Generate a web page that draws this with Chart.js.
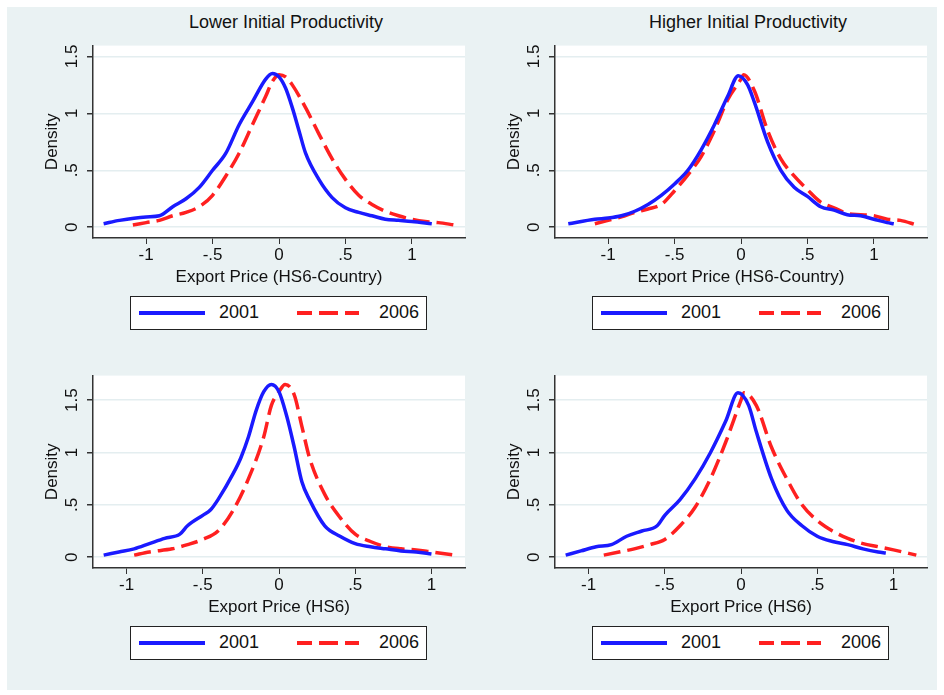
<!DOCTYPE html>
<html>
<head>
<meta charset="utf-8">
<script src="https://cdn.jsdelivr.net/npm/chart.js@4"></script>
<style>
  body { margin: 0; background: #fff; font-family: "Liberation Sans", Arial, sans-serif; }
  #bg { position: absolute; left: 7px; top: 7px; width: 930px; height: 683px; background: #eaf2f3; }
  .pane { position: absolute; }
  .title { position: absolute; font-size: 18px; color: #111; text-align: center; width: 400px; }
  .legend { position: absolute; width: 295px; height: 32px; background: #fff; border: 1.5px solid #222; }
  .legend .ln { position: absolute; top: 14px; width: 66px; height: 0; }
  .legend .txt { position: absolute; top: 5px; font-size: 18px; color: #111; }
</style>
</head>
<body>
<div id="bg"></div>
<script>
// values: [x, density]
const blue1 = [[-1.32,0.03],[-1.2,0.06],[-1.0,0.09],[-0.9,0.1],[-0.8,0.18],[-0.7,0.25],[-0.6,0.35],[-0.5,0.5],[-0.4,0.65],[-0.3,0.9],[-0.2,1.1],[-0.1,1.3],[-0.05,1.35],[0,1.32],[0.05,1.22],[0.1,1.05],[0.15,0.85],[0.2,0.65],[0.3,0.42],[0.4,0.26],[0.5,0.17],[0.6,0.13],[0.7,0.1],[0.8,0.07],[0.9,0.06],[1.0,0.05],[1.15,0.03]]
const red1 = [[-1.1,0.02],[-1,0.04],[-0.9,0.06],[-0.8,0.1],[-0.7,0.13],[-0.6,0.18],[-0.5,0.28],[-0.4,0.45],[-0.3,0.65],[-0.2,0.9],[-0.1,1.15],[-0.05,1.28],[0,1.34],[0.05,1.32],[0.1,1.25],[0.2,1.05],[0.3,0.82],[0.4,0.6],[0.5,0.42],[0.6,0.28],[0.7,0.2],[0.8,0.14],[0.9,0.1],[1.0,0.07],[1.1,0.05],[1.2,0.04],[1.32,0.02]]
const blue2 = [[-1.3,0.03],[-1.1,0.07],[-1,0.08],[-0.9,0.1],[-0.8,0.14],[-0.7,0.2],[-0.6,0.28],[-0.5,0.38],[-0.4,0.5],[-0.3,0.68],[-0.2,0.9],[-0.1,1.15],[-0.02,1.33],[0.05,1.25],[0.1,1.1],[0.2,0.75],[0.3,0.5],[0.4,0.35],[0.5,0.27],[0.6,0.18],[0.7,0.15],[0.8,0.11],[0.9,0.1],[1.0,0.07],[1.1,0.04],[1.15,0.03]]
const red2 = [[-1.1,0.03],[-1,0.06],[-0.9,0.09],[-0.8,0.13],[-0.7,0.16],[-0.6,0.2],[-0.5,0.32],[-0.4,0.46],[-0.3,0.62],[-0.2,0.85],[-0.1,1.12],[0,1.3],[0.02,1.34],[0.1,1.2],[0.2,0.85],[0.3,0.6],[0.4,0.45],[0.5,0.33],[0.6,0.22],[0.7,0.17],[0.8,0.12],[0.9,0.11],[1.0,0.1],[1.1,0.07],[1.2,0.06],[1.32,0.02]]
const blue3 = [[-1.15,0.02],[-1.05,0.05],[-0.95,0.08],[-0.85,0.13],[-0.75,0.18],[-0.65,0.22],[-0.6,0.3],[-0.5,0.4],[-0.45,0.45],[-0.4,0.55],[-0.3,0.8],[-0.25,0.95],[-0.2,1.15],[-0.15,1.4],[-0.1,1.58],[-0.05,1.65],[0,1.58],[0.05,1.35],[0.1,1.05],[0.15,0.72],[0.2,0.55],[0.3,0.3],[0.4,0.2],[0.5,0.13],[0.6,0.1],[0.7,0.08],[0.8,0.06],[0.9,0.05],[1.0,0.03]]
const red3 = [[-0.95,0.02],[-0.85,0.05],[-0.7,0.08],[-0.6,0.12],[-0.5,0.17],[-0.4,0.25],[-0.3,0.45],[-0.2,0.75],[-0.1,1.15],[-0.05,1.45],[0,1.58],[0.04,1.65],[0.1,1.55],[0.15,1.25],[0.2,0.95],[0.3,0.6],[0.4,0.38],[0.5,0.22],[0.6,0.15],[0.7,0.1],[0.8,0.08],[0.9,0.07],[1.0,0.05],[1.15,0.02]]
const blue4 = [[-1.15,0.02],[-1.05,0.06],[-0.95,0.1],[-0.85,0.12],[-0.75,0.2],[-0.65,0.25],[-0.55,0.3],[-0.5,0.4],[-0.4,0.55],[-0.3,0.75],[-0.2,1.0],[-0.1,1.3],[-0.02,1.57],[0.05,1.45],[0.1,1.2],[0.2,0.75],[0.3,0.45],[0.4,0.3],[0.5,0.2],[0.6,0.15],[0.7,0.12],[0.8,0.08],[0.9,0.05],[0.95,0.04]]
const red4 = [[-0.9,0.02],[-0.8,0.05],[-0.7,0.08],[-0.6,0.12],[-0.5,0.17],[-0.4,0.3],[-0.3,0.48],[-0.2,0.75],[-0.1,1.1],[0,1.5],[0.02,1.57],[0.1,1.45],[0.2,1.05],[0.3,0.75],[0.4,0.5],[0.5,0.35],[0.6,0.25],[0.7,0.18],[0.8,0.13],[0.9,0.1],[1.0,0.07],[1.15,0.02]]

const xTicks = [-1, -0.5, 0, 0.5, 1]
const yTicks = [0, 0.5, 1, 1.5]
const tickText = v => v === 0 ? '0' : (v < 0 ? '-' : '') + String(Math.abs(v)).replace(/^0\./, '.')

const titles = ['Lower Initial Productivity', 'Higher Initial Productivity']
const xTitles = ['Export Price (HS6-Country)', 'Export Price (HS6)']
const yTitle = 'Density'
const years = ['2001', '2006']

const panels = [
  { left: 0, top: 42, blue: blue1, red: red1, xmin: -1.40, xmax: 1.40, ymin: -0.095, ymax: 1.595, xt: xTitles[0], title: titles[0] },
  { left: 462, top: 42, blue: blue2, red: red2, xmin: -1.40, xmax: 1.40, ymin: -0.095, ymax: 1.595, xt: xTitles[0], title: titles[1] },
  { left: 0, top: 372, blue: blue3, red: red3, xmin: -1.22, xmax: 1.22, ymin: -0.103, ymax: 1.734, xt: xTitles[1] },
  { left: 462, top: 372, blue: blue4, red: red4, xmin: -1.22, xmax: 1.22, ymin: -0.103, ymax: 1.734, xt: xTitles[1] }
]

const FONT = '"Liberation Sans", Arial, sans-serif'

// plot area background + rotated y tick labels and title, Stata style
const stataLook = {
  id: 'stataLook',
  beforeDraw(chart) {
    const { ctx, chartArea: a } = chart
    ctx.save()
    ctx.fillStyle = '#fff'
    ctx.fillRect(a.left, a.top, a.right - a.left, a.bottom - a.top)
    ctx.restore()
  },
  afterDraw(chart) {
    const { ctx, chartArea: a } = chart
    const y = chart.scales.y
    const rot = (txt, x, yy) => {
      ctx.save()
      ctx.translate(x, yy)
      ctx.rotate(-Math.PI / 2)
      ctx.fillText(txt, 0, 0)
      ctx.restore()
    }
    ctx.save()
    ctx.fillStyle = '#111'
    ctx.font = '17px ' + FONT
    ctx.textAlign = 'center'
    ctx.textBaseline = 'middle'
    yTicks.forEach(v => rot(tickText(v), 72, y.getPixelForValue(v)))
    rot(yTitle, 52, (a.top + a.bottom) / 2)
    ctx.restore()
  }
}

panels.forEach(p => {
  const c = document.createElement('canvas')
  const wrap = document.createElement('div')
  wrap.className = 'pane'
  wrap.style.left = p.left + 'px'
  wrap.style.top = p.top + 'px'
  wrap.style.width = '470px'
  wrap.style.height = '246px'
  wrap.appendChild(c)
  document.body.appendChild(wrap)

  if (p.title) {
    const t = document.createElement('div')
    t.className = 'title'
    t.textContent = p.title
    t.style.left = (p.left + 286 - 200) + 'px'
    t.style.top = '12px'
    document.body.appendChild(t)
  }

  const lg = document.createElement('div')
  lg.className = 'legend'
  lg.style.left = (p.left + 130) + 'px'
  lg.style.top = (p.top + 254) + 'px'
  lg.innerHTML =
    '<div class="ln" style="left:8px;border-top:4px solid #1a1aff"></div>' +
    '<div class="txt" style="left:88px">' + years[0] + '</div>' +
    '<div class="ln" style="left:166px;width:62px;border-top:4px solid transparent;border-image:repeating-linear-gradient(90deg,#ff2020 0 17px,transparent 17px 23px) 4"></div>' +
    '<div class="txt" style="left:248px">' + years[1] + '</div>'
  document.body.appendChild(lg)

  new Chart(c, {
    type: 'line',
    data: {
      datasets: [
        { label: years[0], data: p.blue.map(([x, y]) => ({ x, y })), borderColor: '#1a1aff', borderWidth: 3.5, pointRadius: 0, cubicInterpolationMode: 'monotone', fill: false },
        { label: years[1], data: p.red.map(([x, y]) => ({ x, y })), borderColor: '#ff2020', borderWidth: 3.5, borderDash: [17, 7], pointRadius: 0, cubicInterpolationMode: 'monotone', fill: false }
      ]
    },
    options: {
      responsive: true, maintainAspectRatio: false, animation: false,
      layout: { padding: { left: 0, right: 5, top: 0, bottom: 0 } },
      plugins: { legend: { display: false }, tooltip: { enabled: false } },
      scales: {
        x: {
          type: 'linear', min: p.xmin, max: p.xmax,
          afterFit: s => { s.height = 50 },
          afterBuildTicks: s => { s.ticks = xTicks.map(v => ({ value: v })) },
          grid: { drawOnChartArea: false, tickLength: 6, color: '#333' },
          border: { color: '#333', width: 1.5 },
          ticks: { color: '#111', font: { size: 17, family: FONT }, padding: 1, callback: v => tickText(v) },
          title: { display: true, text: p.xt, color: '#111', font: { size: 17, family: FONT }, padding: { top: 0, bottom: 0 } }
        },
        y: {
          type: 'linear', min: p.ymin, max: p.ymax,
          afterFit: s => { s.width = 93 },
          afterBuildTicks: s => { s.ticks = yTicks.map(v => ({ value: v })) },
          grid: { color: '#e4eef0', lineWidth: 1.5, tickLength: 6, tickColor: '#333' },
          border: { color: '#333', width: 1.5 },
          ticks: { display: true, font: { size: 1 }, callback: () => '' }
        }
      }
    },
    plugins: [stataLook]
  })
})
</script>
</body>
</html>
